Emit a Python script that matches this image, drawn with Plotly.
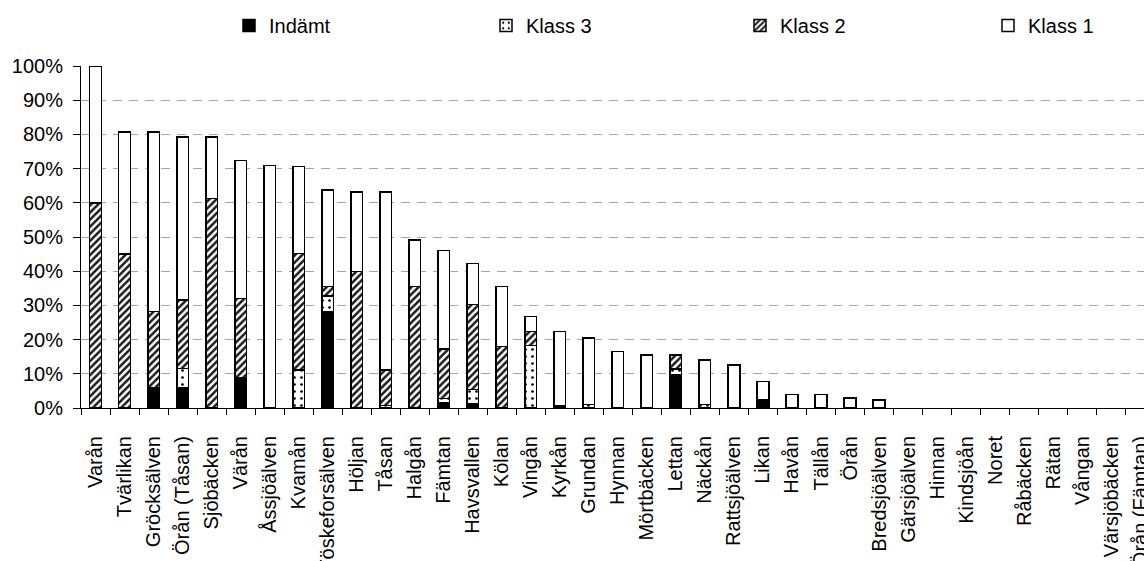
import plotly.graph_objects as go

# Vattendrag (stream names), one bar each
streams = [
    "Varån", "Tvärlikan", "Gröcksälven", "Örån (Tåsan)", "Sjöbäcken", "Värån",
    "Åssjöälven", "Kvamån", "Töskeforsälven", "Höljan", "Tåsan", "Halgån",
    "Fämtan", "Havsvallen", "Kölan", "Vingån", "Kyrkån", "Grundan", "Hynnan",
    "Mörtbäcken", "Lettan", "Näckån", "Rattsjöälven", "Likan", "Havån",
    "Tällån", "Örån", "Bredsjöälven", "Gärsjöälven", "Hinnan", "Kindsjöån",
    "Noret", "Råbäcken", "Rätan", "Vångan", "Värsjöbäcken", "Örån (Fämtan)",
]

# Share of stream length per class, in percent
indamt = [0, 0, 5.9, 5.9, 0, 8.9, 0, 0, 28.2, 0, 0, 0, 1.6, 1.2, 0, 0, 0.7, 0,
          0, 0, 9.7, 0, 0, 2.5, 0, 0, 0, 0, 0, 0, 0, 0, 0, 0, 0, 0, 0]
klass3 = [0, 0, 0, 5.6, 0, 0, 0, 11.1, 4.6, 0, 0.8, 0, 1.2, 4.2, 0, 18.3, 0, 1.0,
          0, 0, 1.7, 1.0, 0, 0, 0, 0, 0, 0, 0, 0, 0, 0, 0, 0, 0, 0, 0]
klass2 = [60, 45, 22.3, 20.1, 61.2, 23.1, 0, 34.1, 2.8, 39.9, 10.3, 35.6, 14.5,
          24.8, 18.0, 4.0, 0, 0, 0, 0, 4.1, 0, 0, 0, 0, 0, 0, 0, 0, 0, 0, 0, 0,
          0, 0, 0, 0]
klass1 = [40, 35.7, 52.5, 47.7, 18.1, 40.4, 70.9, 25.4, 28.1, 23.3, 52.1, 13.5,
          28.8, 12.1, 17.5, 4.4, 21.6, 19.4, 16.5, 15.5, 0, 13.0, 12.6, 5.2, 3.9,
          3.9, 2.9, 2.4, 0, 0, 0, 0, 0, 0, 0, 0, 0]

y_ticks = [0, 10, 20, 30, 40, 50, 60, 70, 80, 90, 100]

FONT = "Liberation Sans, Arial, sans-serif"
FS = 20


def nz(values):
    # empty segments are left out so they draw no outline
    return [v if v else None for v in values]


# name, values, fill, legend id, legend left edge (px)
series = [
    ("Indämt", indamt, dict(color="black"), "legend", 229),
    ("Klass 3", klass3, dict(color="white",
                             pattern=dict(shape=".", fgcolor="black", bgcolor="white",
                                          size=7, solidity=0.12, fillmode="replace")),
     "legend2", 486),
    ("Klass 2", klass2, dict(color="white",
                             pattern=dict(shape="/", fgcolor="#1a1a1a", bgcolor="white",
                                          size=5, solidity=0.5, fillmode="replace")),
     "legend3", 740),
    ("Klass 1", klass1, dict(color="white"), "legend4", 988),
]

fig = go.Figure()
legends = {}
for name, vals, marker, leg, left in series:
    fig.add_trace(go.Bar(
        x=streams, y=nz(vals), name=name, width=0.4, legend=leg,
        marker=dict(**marker, line=dict(color="black", width=1.5)),
    ))
    legends[leg] = dict(
        orientation="h", xref="container", yref="container",
        x=left / 1144, xanchor="left", y=1 - 6 / 561, yanchor="top",
        font=dict(family=FONT, size=FS, color="black"),
        bgcolor="rgba(0,0,0,0)",
    )

fig.update_layout(
    template="none",
    barmode="stack",
    width=1144, height=561,
    margin=dict(l=81, r=0, t=66, b=153, autoexpand=False),
    paper_bgcolor="white", plot_bgcolor="white",
    font=dict(family=FONT, size=FS, color="black"),
    showlegend=True,
    **legends,
    xaxis=dict(
        type="category", range=[-0.5, 36.13], automargin=False,
        showline=True, linecolor="black", linewidth=1,
        ticks="outside", tickson="boundaries", ticklen=6, tickcolor="black",
        ticklabelstandoff=19,
        tickangle=-90, showgrid=False, zeroline=False,
        tickfont=dict(family=FONT, size=FS, color="black"),
    ),
    yaxis=dict(
        range=[0, 100], tickvals=y_ticks, ticktext=[f"{v}%" for v in y_ticks],
        automargin=False,
        showline=True, linecolor="black", linewidth=1,
        ticks="outside", ticklen=7, tickcolor="black", ticklabelstandoff=6,
        showgrid=True, gridcolor="#a6a6a6", gridwidth=1, griddash="9px,7px",
        zeroline=False,
        tickfont=dict(family=FONT, size=FS, color="black"),
    ),
)

fig.write_html("out.html")
